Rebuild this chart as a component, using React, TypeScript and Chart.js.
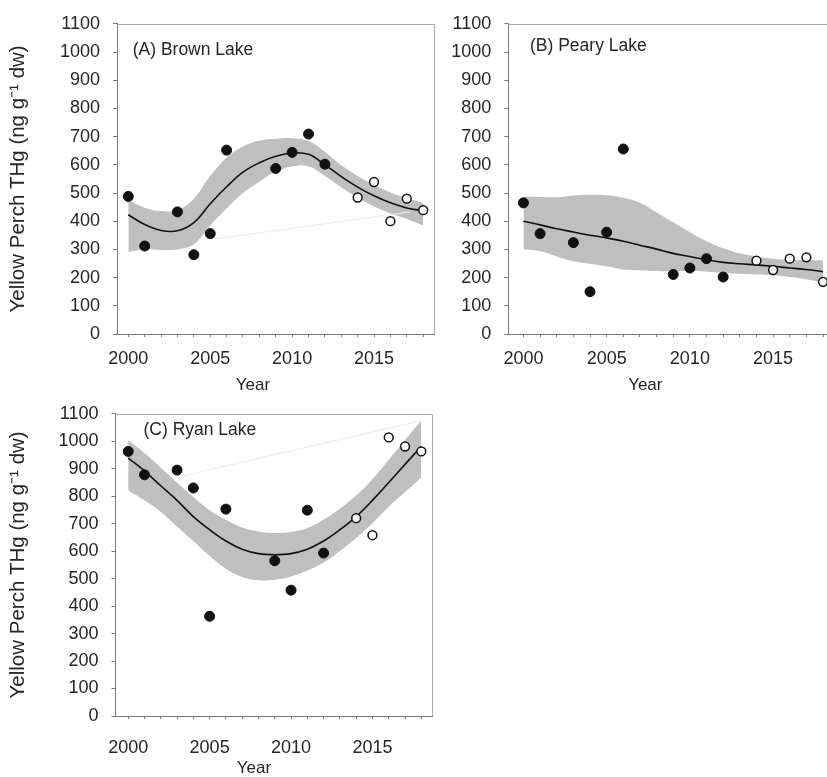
import { useEffect, useRef } from "react";
import { Chart, registerables } from "chart.js";

Chart.register(...registerables);

const FONT = "'Liberation Sans', Arial, Helvetica, sans-serif";
const INK = "#262626";
const AXIS = "#7a7a7a";
const BAND = "#bfbfbf";

// Smoothed-fit grid: one value per year
const fitYears = [2000, 2001, 2002, 2003, 2004, 2005, 2006, 2007, 2008, 2009, 2010, 2011, 2012, 2013, 2014, 2015, 2016, 2017, 2018];

// (A) Brown Lake
const brownSolidYears = [2000, 2001, 2003, 2004, 2005, 2006, 2009, 2010, 2011, 2012];
const brownSolid = [488, 312, 433, 281, 356, 652, 587, 644, 709, 602];
const brownOpenYears = [2014, 2015, 2016, 2017, 2018];
const brownOpen = [484, 539, 400, 480, 439];
const brownFit = [423, 388, 367, 366, 395, 462, 522, 574, 607, 630, 642, 637, 600, 558, 521, 490, 465, 447, 437];
const brownUpper = [474, 448, 436, 440, 480, 560, 625, 665, 685, 692, 694, 684, 645, 598, 560, 528, 502, 482, 464];
const brownLower = [292, 300, 298, 300, 318, 385, 445, 500, 540, 576, 594, 595, 560, 520, 483, 452, 428, 408, 385];
const brownTraceYears = [2005.2, 2017.2];
const brownTrace = [336, 433];

// (B) Peary Lake
const pearySolidYears = [2000, 2001, 2003, 2004, 2005, 2006, 2009, 2010, 2011, 2012];
const pearySolid = [465, 356, 324, 150, 361, 656, 211, 234, 267, 202];
const pearyOpenYears = [2014, 2015, 2016, 2017, 2018];
const pearyOpen = [260, 227, 267, 272, 185];
const pearyFit = [400, 387, 373, 362, 350, 341, 329, 315, 301, 286, 275, 263, 254, 249, 245, 240, 234, 229, 221];
const pearyUpper = [488, 486, 485, 491, 494, 492, 483, 465, 431, 396, 361, 329, 304, 286, 275, 267, 263, 262, 261];
const pearyLower = [300, 294, 275, 258, 249, 240, 229, 226, 223, 223, 223, 221, 217, 214, 211, 208, 202, 194, 182];

// (C) Ryan Lake
const ryanSolidYears = [2000, 2001, 2003, 2004, 2005, 2006, 2009, 2010, 2011, 2012];
const ryanSolid = [963, 878, 895, 830, 363, 753, 565, 458, 749, 593];
const ryanOpenYears = [2014, 2015, 2016, 2017, 2018];
const ryanOpen = [720, 658, 1014, 981, 963];
const ryanFit = [939, 892, 838, 785, 726, 678, 637, 607, 591, 587, 591, 607, 637, 678, 726, 785, 850, 916, 981];
const ryanUpper = [1005, 957, 904, 850, 797, 749, 714, 686, 672, 666, 670, 684, 714, 755, 803, 862, 933, 1005, 1076];
const ryanLower = [821, 785, 743, 690, 637, 583, 536, 506, 494, 496, 508, 530, 559, 601, 648, 702, 762, 815, 868];
const ryanTraceYears = [2003.3, 2018];
const ryanTrace = [873, 1075];

const yTicks = [0, 100, 200, 300, 400, 500, 600, 700, 800, 900, 1000, 1100];
const xLabelled = [2000, 2005, 2010, 2015];
const yTitle = "Yellow Perch THg (ng g\u207B\u00B9 dw)";
const xTitle = "Year";

const zip = (xs: number[], ys: number[]) => xs.map((x, i) => ({ x, y: ys[i] }));

type Series = {
  solidYears: number[];
  solid: number[];
  openYears: number[];
  open: number[];
  fit: number[];
  upper: number[];
  lower: number[];
  traceYears?: number[];
  trace?: number[];
};

type PanelProps = {
  left: number;
  top: number;
  width: number;
  height: number;
  axisWidth: number;
  axisHeight: number;
  padTop: number;
  padRight: number;
  xMin: number;
  xMax: number;
  xTickPad: number;
  label: string;
  labelDx: number;
  labelDy: number;
  captionDx: number;
  captionDy: number;
  showYTitle: boolean;
  series: Series;
};

function Panel(p: PanelProps) {
  const ref = useRef<HTMLCanvasElement | null>(null);

  useEffect(() => {
    const canvas = ref.current;
    if (!canvas) return;
    const s = p.series;

    const decorations = {
      id: "decorations",
      afterDraw(chart: any) {
        const { ctx, chartArea: a } = chart;
        ctx.save();
        // light top and right edges of the plotting frame
        ctx.strokeStyle = "#a8a8a8";
        ctx.lineWidth = 1;
        ctx.beginPath();
        ctx.moveTo(a.left, Math.round(a.top) + 0.5);
        ctx.lineTo(Math.round(a.right) + 0.5, Math.round(a.top) + 0.5);
        ctx.lineTo(Math.round(a.right) + 0.5, a.bottom);
        ctx.stroke();
        ctx.fillStyle = INK;
        ctx.font = `17.5px ${FONT}`;
        ctx.textBaseline = "middle";
        ctx.textAlign = "left";
        ctx.fillText(p.label, a.left + p.labelDx, a.top + p.labelDy);
        ctx.textAlign = "center";
        ctx.font = `17px ${FONT}`;
        ctx.fillText(xTitle, a.left + p.captionDx, a.bottom + p.captionDy);
        ctx.restore();
      },
    };

    const curve = { showLine: true, pointRadius: 0, tension: 0.4, fill: false };

    const datasets: any[] = [
      {
        ...curve,
        data: zip(fitYears, s.lower),
        borderWidth: 0,
        borderColor: "rgba(0,0,0,0)",
        order: 6,
      },
      {
        ...curve,
        data: zip(fitYears, s.upper),
        borderWidth: 0,
        borderColor: "rgba(0,0,0,0)",
        backgroundColor: BAND,
        fill: "-1",
        order: 5,
      },
      {
        ...curve,
        data: zip(fitYears, s.fit),
        borderWidth: 1.6,
        borderColor: "#111111",
        order: 2,
      },
      {
        data: zip(s.solidYears, s.solid),
        pointRadius: 5,
        pointBackgroundColor: "#111111",
        pointBorderColor: "#111111",
        pointBorderWidth: 1,
        order: 1,
      },
      {
        data: zip(s.openYears, s.open),
        pointRadius: 4.4,
        pointBackgroundColor: "#ffffff",
        pointBorderColor: "#111111",
        pointBorderWidth: 1.5,
        order: 0,
      },
    ];
    if (s.traceYears && s.trace) {
      datasets.push({
        data: zip(s.traceYears, s.trace),
        showLine: true,
        pointRadius: 0,
        borderWidth: 1,
        borderColor: "#ececec",
        fill: false,
        order: 4,
      });
    }

    const chart = new Chart(canvas, {
      type: "scatter",
      data: { datasets },
      options: {
        responsive: false,
        animation: false,
        events: [],
        layout: { padding: { top: p.padTop, right: p.padRight, left: 0, bottom: 0 } },
        plugins: { legend: { display: false }, tooltip: { enabled: false } },
        scales: {
          x: {
            type: "linear",
            min: p.xMin,
            max: p.xMax,
            afterFit: (scale: any) => {
              scale.height = p.axisHeight;
            },
            ticks: {
              stepSize: 1,
              includeBounds: false,
              autoSkip: false,
              maxRotation: 0,
              padding: p.xTickPad,
              color: INK,
              font: { family: FONT, size: 18 },
              callback: (v: any) => (xLabelled.includes(Number(v)) ? String(v) : ""),
            },
            grid: { display: true, drawOnChartArea: false, drawTicks: true, tickLength: 3, color: AXIS },
            border: { display: true, color: AXIS, width: 1 },
          },
          y: {
            type: "linear",
            min: yTicks[0],
            max: yTicks[yTicks.length - 1],
            afterFit: (scale: any) => {
              scale.width = p.axisWidth;
            },
            afterBuildTicks: (scale: any) => {
              scale.ticks = yTicks.map((v) => ({ value: v }));
            },
            ticks: {
              padding: 13,
              color: INK,
              font: { family: FONT, size: 18 },
              callback: (v: any) => String(v),
            },
            grid: { display: true, drawOnChartArea: false, drawTicks: true, tickLength: 4, color: AXIS },
            border: { display: true, color: AXIS, width: 1 },
            title: {
              display: p.showYTitle,
              text: yTitle,
              color: INK,
              font: { family: FONT, size: 20.5 },
              padding: { top: 5.7, bottom: 0 },
            },
          },
        },
      },
      plugins: [decorations],
    } as any);

    return () => chart.destroy();
  }, []);

  return (
    <canvas
      ref={ref}
      width={p.width}
      height={p.height}
      style={{ position: "absolute", left: p.left, top: p.top }}
    />
  );
}

export default function App() {
  return (
    <div
      style={{
        position: "fixed",
        left: 0,
        top: 0,
        width: 827,
        height: 777,
        overflow: "hidden",
        background: "#ffffff",
      }}
    >
      <Panel
        left={0}
        top={0}
        width={440}
        height={400}
        axisWidth={117}
        axisHeight={66}
        padTop={17}
        padRight={6}
        xMin={1999.31}
        xMax={2018.66}
        xTickPad={11.5}
        label="(A) Brown Lake"
        labelDx={15.7}
        labelDy={26}
        captionDx={136}
        captionDy={51}
        showYTitle={true}
        series={{
          solidYears: brownSolidYears,
          solid: brownSolid,
          openYears: brownOpenYears,
          open: brownOpen,
          fit: brownFit,
          upper: brownUpper,
          lower: brownLower,
          traceYears: brownTraceYears,
          trace: brownTrace,
        }}
      />
      <Panel
        left={440}
        top={0}
        width={400}
        height={400}
        axisWidth={68.3}
        axisHeight={66}
        padTop={17}
        padRight={4}
        xMin={1999.09}
        xMax={2018.66}
        xTickPad={11.5}
        label="(B) Peary Lake"
        labelDx={21.7}
        labelDy={22}
        captionDx={137}
        captionDy={51}
        showYTitle={false}
        series={{
          solidYears: pearySolidYears,
          solid: pearySolid,
          openYears: pearyOpenYears,
          open: pearyOpen,
          fit: pearyFit,
          upper: pearyUpper,
          lower: pearyLower,
        }}
      />
      <Panel
        left={0}
        top={390}
        width={440}
        height={387}
        axisWidth={115.5}
        axisHeight={61}
        padTop={17.5}
        padRight={6}
        xMin={1999.22}
        xMax={2018.66}
        xTickPad={18.5}
        label="(C) Ryan Lake"
        labelDx={28}
        labelDy={16.5}
        captionDx={138.5}
        captionDy={52}
        showYTitle={true}
        series={{
          solidYears: ryanSolidYears,
          solid: ryanSolid,
          openYears: ryanOpenYears,
          open: ryanOpen,
          fit: ryanFit,
          upper: ryanUpper,
          lower: ryanLower,
          traceYears: ryanTraceYears,
          trace: ryanTrace,
        }}
      />
    </div>
  );
}
